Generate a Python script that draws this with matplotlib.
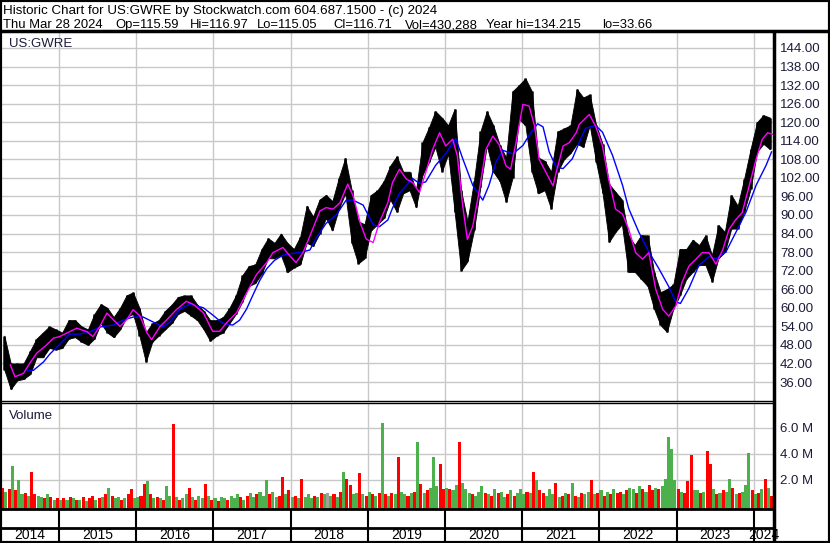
import matplotlib
matplotlib.use("Agg")
import matplotlib.pyplot as plt
from matplotlib.lines import Line2D
from matplotlib.patches import Rectangle
import numpy as np
import pandas as pd

# monthly high / low of the price bars, Apr 2014 .. Mar 2024
months = pd.period_range("2014-04", "2024-03", freq="M")
month_hi = [51, 42, 42, 42, 46, 50, 52, 54, 53, 52, 56, 56,
            54, 53, 58, 61.2, 60, 57, 60, 64, 65, 60, 52, 55,
            56, 59, 61, 63.5, 64, 64, 61, 59, 56, 56, 57, 60,
            64, 70.5, 73.5, 74, 79, 82.5, 81, 84, 81, 79, 83, 93,
            89.5, 95, 96.5, 94.5, 102, 108.5, 98, 88, 87, 96.5, 98, 101,
            106, 109, 104, 104, 98, 113.5, 118.3, 123.6, 121.5, 119, 124.3, 98,
            88, 101, 117, 123.6, 119, 112.7, 108.6, 130, 132, 134.2, 130, 108.6,
            107.5, 104, 117, 118, 119, 130.7, 128, 129, 119, 113, 100, 97.5,
            95, 83.5, 80.3, 83.5, 83.4, 71.6, 65.1, 66, 67.6, 79, 79, 82,
            80.3, 83.5, 77, 86.8, 84.5, 96.5, 93, 101.7, 111.3, 120, 122.3, 121.5]
month_lo = [40, 33.7, 36.5, 37, 38.5, 44, 44, 47, 46.5, 47, 50, 50.5,
            49, 48, 50, 55, 52, 50.5, 53, 57, 58, 51, 42.5, 49,
            51, 53, 55, 58, 59, 57.5, 56, 53, 49.3, 51, 52, 55,
            58, 62, 67, 68, 71, 76, 76, 77, 71.5, 73, 74, 81,
            80, 84, 89, 85, 92, 97, 81, 74.3, 76, 85, 87, 89,
            95, 91, 97, 98, 92.5, 103, 107, 112, 104, 109.7, 91, 72,
            75, 85, 99, 112.5, 104, 101, 94.2, 102, 121, 119, 104, 97,
            98, 92, 104, 108, 110, 113, 112, 119, 107, 97, 81.3, 84.5,
            87, 71.6, 71.6, 69.3, 67, 59.7, 54.4, 52.2, 59.7, 64, 69.3, 71.6,
            73.8, 73.8, 68.4, 76, 78, 85.6, 85.6, 91, 98.4, 110.4, 113, 111.3]

# short moving average (magenta)
fast_t = [2014.37, 2014.43, 2014.54, 2014.62, 2014.71, 2014.84, 2014.93,
          2015.01, 2015.14, 2015.23, 2015.36, 2015.44, 2015.53, 2015.62, 2015.70, 2015.79, 2015.88, 2015.96,
          2016.05, 2016.14, 2016.20, 2016.31, 2016.40, 2016.52, 2016.65, 2016.74, 2016.87, 2016.99,
          2017.08, 2017.17, 2017.30, 2017.43, 2017.56, 2017.69, 2017.77, 2017.90, 2017.99,
          2018.07, 2018.16, 2018.25, 2018.38, 2018.46, 2018.55, 2018.64, 2018.74, 2018.81, 2018.90, 2018.98,
          2019.07, 2019.15, 2019.26, 2019.32, 2019.41, 2019.50, 2019.58, 2019.67, 2019.75, 2019.84, 2019.93,
          2020.01, 2020.10, 2020.16, 2020.23, 2020.29, 2020.36, 2020.44, 2020.53, 2020.62, 2020.70, 2020.79,
          2020.85, 2020.92, 2021.01, 2021.09, 2021.16, 2021.22, 2021.31, 2021.40, 2021.44, 2021.53, 2021.61,
          2021.70, 2021.74, 2021.87, 2021.95, 2022.04, 2022.12, 2022.21, 2022.30, 2022.38, 2022.47, 2022.56,
          2022.64, 2022.73, 2022.82, 2022.90, 2022.99, 2023.07, 2023.16, 2023.25, 2023.33, 2023.42, 2023.51,
          2023.60, 2023.68, 2023.77, 2023.85, 2023.94, 2024.03, 2024.11, 2024.18, 2024.24]
fast_v = [41.5, 37.7, 38.8, 42.0, 45.3, 48.0, 50.2,
          50.7, 52.3, 53.4, 52.3, 50.7, 54.0, 58.3, 56.2, 54.0, 56.2, 59.4,
          57.3, 51.9, 49.7, 54.0, 56.2, 59.4, 62.1, 61.1, 58.4, 52.4,
          52.4, 55.1, 58.4, 64.8, 70.8, 74.6, 77.8, 79.5, 76.8,
          74.6, 77.8, 83.2, 91.3, 92.4, 91.9, 94.0, 100.0, 96.2, 87.6, 82.2,
          81.1, 87.6, 94.0, 100.5, 104.8, 101.6, 100.5, 97.3, 103.7, 111.2, 116.6,
          112.3, 114.5, 109.1, 92.9, 82.1, 86.4, 97.3, 111.2, 115.5, 112.8, 105.9,
          104.8, 113.4, 125.8, 125.2, 118.8, 108.0, 103.7, 99.4, 103.7, 112.3, 113.4,
          116.6, 119.3, 122.5, 118.8, 112.3, 101.6, 91.9, 90.3, 85.4, 77.8, 75.7,
          77.8, 66.0, 59.5, 57.3, 60.6, 68.2, 73.5, 75.7, 77.8, 77.8, 74.1,
          78.9, 85.4, 88.6, 90.8, 99.4, 108.0, 114.5, 116.6, 116.1]

# long moving average (blue)
slow_t = [2014.59, 2014.67, 2014.80, 2014.88,
          2015.01, 2015.14, 2015.27, 2015.40, 2015.53, 2015.70, 2015.83, 2015.96,
          2016.09, 2016.22, 2016.35, 2016.44, 2016.57, 2016.70, 2016.87, 2016.99,
          2017.12, 2017.25, 2017.34, 2017.43, 2017.51, 2017.60, 2017.69, 2017.79, 2017.90,
          2018.03, 2018.16, 2018.25, 2018.33, 2018.46, 2018.59, 2018.72, 2018.81, 2018.94,
          2019.07, 2019.15, 2019.26, 2019.32, 2019.41, 2019.58, 2019.67, 2019.75, 2019.88,
          2020.01, 2020.14, 2020.23, 2020.36, 2020.49, 2020.57, 2020.66, 2020.75, 2020.88,
          2021.01, 2021.09, 2021.20, 2021.27, 2021.35, 2021.44, 2021.53, 2021.65, 2021.76, 2021.82, 2021.95,
          2022.04, 2022.17, 2022.30, 2022.38, 2022.51, 2022.64, 2022.77, 2022.90, 2022.99,
          2023.05, 2023.16, 2023.29, 2023.42, 2023.51, 2023.64, 2023.77, 2023.90,
          2024.03, 2024.16, 2024.23]
slow_v = [39.6, 39.8, 42.5, 45.0,
          48.2, 51.5, 51.5, 52.2, 53.8, 54.4, 56.0, 57.0,
          57.0, 55.4, 53.8, 55.4, 59.6, 61.2, 60.0, 57.7,
          55.0, 54.4, 56.0, 59.6, 64.0, 68.8, 72.6, 75.3, 77.0,
          77.6, 78.1, 78.7, 82.5, 87.3, 90.0, 94.8, 94.8, 93.2,
          86.8, 86.2, 88.4, 92.2, 97.0, 101.8, 100.2, 100.7, 106.1,
          109.8, 114.7, 108.2, 99.6, 94.8, 99.6, 107.1, 110.9, 109.8,
          112.5, 115.8, 119.5, 118.5, 110.4, 105.5, 105.0, 108.2, 114.7, 118.0, 119.0,
          116.8, 109.3, 99.6, 92.1, 84.5, 78.1, 72.7, 66.8, 61.9,
          61.4, 66.3, 73.8, 76.5, 75.9, 78.1, 84.5, 91.0,
          99.6, 106.1, 110.4]

# volume in millions, two bars per month
volume = [1.4, 1.1, 1.3, 3.1, 1.2, 2.0, 0.9, 1.0, 0.8, 2.6, 0.9, 0.8, 0.7, 0.6, 0.9, 0.7, 0.5, 0.6, 0.5, 0.6, 0.5, 0.7, 0.6, 0.5,
          0.5, 0.7, 0.4, 0.6, 0.8, 0.5, 0.6, 0.7, 0.9, 1.4, 0.8, 0.6, 0.7, 0.5, 0.6, 0.9, 1.3, 0.6, 0.7, 0.8, 1.7, 1.9, 0.9, 0.6,
          0.7, 0.6, 0.5, 1.5, 0.8, 6.3, 0.7, 0.5, 0.6, 0.9, 1.4, 0.7, 0.5, 0.8, 0.6, 1.7, 0.8, 0.5, 0.6, 0.4, 0.7, 0.6, 0.5, 0.8,
          0.6, 0.9, 0.7, 0.5, 0.8, 1.0, 0.7, 0.9, 1.1, 0.8, 2.0, 0.9, 1.1, 0.7, 0.8, 2.2, 0.9, 1.2, 0.7, 0.8, 0.6, 2.1, 0.7, 0.9,
          0.6, 0.8, 0.7, 1.0, 0.9, 1.0, 0.8, 0.9, 0.7, 1.1, 2.6, 2.1, 1.6, 0.9, 1.0, 2.5, 0.9, 0.8, 1.1, 0.9, 0.8, 1.0, 6.4, 0.9,
          0.8, 1.0, 0.9, 3.8, 1.1, 0.9, 0.8, 1.0, 1.1, 4.9, 1.7, 1.0, 1.2, 1.4, 3.8, 1.5, 3.2, 1.3, 1.4, 1.3, 1.2, 1.6, 4.9, 1.8,
          1.3, 1.0, 0.9, 0.8, 1.1, 1.5, 1.0, 0.9, 0.8, 1.3, 1.0, 1.1, 0.7, 0.9, 1.2, 0.8, 1.0, 1.3, 0.9, 1.1, 1.0, 2.6, 2.0, 1.2,
          1.0, 0.8, 1.3, 0.9, 1.8, 0.7, 0.8, 1.0, 0.9, 1.8, 0.8, 0.7, 1.0, 0.9, 1.1, 2.0, 0.9, 1.0, 1.2, 0.8, 1.1, 0.9, 1.3, 1.0,
          1.1, 0.9, 1.2, 1.4, 1.3, 1.0, 1.5, 1.3, 1.1, 1.6, 1.2, 1.4, 1.3, 1.5, 2.1, 5.3, 4.4, 2.0, 1.3, 1.1, 1.0, 1.9, 3.9, 1.2,
          1.2, 1.0, 1.1, 4.2, 3.2, 1.3, 0.9, 1.0, 1.2, 1.1, 2.1, 1.4, 0.9, 1.0, 1.1, 1.6, 4.1, 1.2, 0.9, 1.0, 1.3, 2.1, 1.4, 0.8]
# bar colour per volume bar: g = up day, r = down day, k = unchanged
vol_dir = ("rgrgrggrgrrggrgrgrgrgrgr"
           "grgrrgrgrgrggrgrrggrrgrg"
           "rgrggrgrggrgrggrgrgrggrg"
           "ggrgrggrgggrggrrgrgrgrgg"
           "grgrgkgrgrgrrggrgrgrgrgr"
           "grgrggrgrgrgrgggrrgrggrg"
           "ggrgggrgrgrggrgrgggrgrgr"
           "rgggrgrgrgrgrggrgrgrgrgr"
           "rgrggrgrgrrgrgggggrgrrrg"
           "grgrrgrgrggrgrgggrgrgrgr")

price_ticks = list(range(36, 145, 6))
vol_ticks = [2, 4, 6]
years = list(range(2014, 2025))
header_1 = "Historic Chart for US:GWRE by Stockwatch.com 604.687.1500 - (c) 2024"
header_2 = ["Thu Mar 28 2024", "Op=115.59", "Hi=116.97", "Lo=115.05", "Cl=116.71",
            "Vol=430,288", "Year hi=134.215", "lo=33.66"]
header_2_x = [3, 115, 190, 257, 333, 405, 486, 602]

W, H = 830, 543
X0, X1 = 2014.236, 2024.249
GRID = "#c8c8c8"
TXT = "#1c1c3a"
plt.rcParams["font.family"] = ["Liberation Sans", "DejaVu Sans"]

fig = plt.figure(figsize=(W / 100, H / 100), dpi=100)


def px_axes(x0, y0, x1, y1):
    return fig.add_axes([x0 / W, 1 - y1 / H, (x1 - x0) / W, (y1 - y0) / H])


def fig_line(xs, ys, lw):
    fig.add_artist(Line2D([x / W for x in xs], [1 - y / H for y in ys], color="black",
                          lw=lw, transform=fig.transFigure, solid_capstyle="butt"))


# ---- price panel
ax = px_axes(0, 32, 773, 401)
t_month = months.year + (months.month - 0.5) / 12
ax.fill_between(t_month, month_lo, month_hi, color="black", lw=0.6, zorder=3)
ax.vlines(t_month, month_lo, month_hi, color="black", lw=1.8, zorder=3)
ax.plot(slow_t, slow_v, color="#0000ff", lw=1.0, zorder=4)
ax.plot(fast_t, fast_v, color="#ff00ff", lw=1.0, zorder=5)
ax.set_xlim(X0, X1)
ax.set_ylim(29.86, 149.17)
ax.set_yticks(price_ticks)
ax.set_yticklabels([f"{v:.2f}" for v in price_ticks], fontsize=9.5, color=TXT)
ax.yaxis.tick_right()
ax.tick_params(axis="y", length=0, pad=5)
ax.set_xticks(years[1:])
ax.tick_params(axis="x", length=0, labelbottom=False)
ax.grid(True, color=GRID, lw=1.0)
ax.set_axisbelow(True)
for s in ["top", "left", "right"]:
    ax.spines[s].set_visible(False)
ax.spines["bottom"].set_linewidth(1.0)
ax.text(0.012, 0.985, "US:GWRE", transform=ax.transAxes, ha="left", va="top",
        fontsize=9.5, color=TXT)

# ---- volume panel
av = px_axes(0, 403, 773, 509)
t_vol = np.repeat(t_month - 0.5 / 12, 2) + np.tile([0.25, 0.75], len(t_month)) / 12
colors = {"g": "#4cb04c", "r": "#ff0000", "k": "#a0a0a0"}
vb = -0.23
av.bar(t_vol, np.array(volume) - vb, bottom=vb, width=0.95 / 24,
       color=[colors[c] for c in vol_dir], lw=0, zorder=3)
av.set_xlim(X0, X1)
av.set_ylim(vb, 7.92)
av.set_yticks(vol_ticks)
av.set_yticklabels([f"{v:.1f} M" for v in vol_ticks], fontsize=9.5, color=TXT)
av.yaxis.tick_right()
av.tick_params(axis="y", length=0, pad=5)
av.set_xticks(years[1:])
av.tick_params(axis="x", length=0, labelbottom=False)
av.grid(True, color=GRID, lw=1.0)
av.set_axisbelow(True)
for s in ["bottom", "left", "right"]:
    av.spines[s].set_visible(False)
av.spines["top"].set_linewidth(1.0)
av.text(0.012, 0.93, "Volume", transform=av.transAxes, ha="left", va="top",
        fontsize=9.5, color=TXT)

# ---- empty band and year labels
for (y0, y1) in [(509, 527), (527, 542)]:
    ab = px_axes(0, y0, 773, y1)
    ab.set_xlim(X0, X1)
    ab.set_ylim(0, 1)
    ab.vlines(years[1:], 0, 1, color="black", lw=1.5)
    ab.set_xticks([])
    ab.set_yticks([])
    for s in ab.spines.values():
        s.set_visible(False)
    if y0 == 527:
        for yr in years:
            a, b = max(yr, X0), min(yr + 1, X1)
            ab.text((a + b) / 2, 0.45, str(yr), ha="center", va="center",
                    fontsize=10, color="black")

fig_line([0, 773], [509, 509], 2.0)
fig_line([0, 773], [527.5, 527.5], 2.0)
fig_line([0, W], [31, 31], 2.5)
fig_line([773.5, 773.5], [31, H], 2.5)
fig.add_artist(Rectangle((0, 0), 1, 1, transform=fig.transFigure, fill=False,
                         ec="black", lw=3))

# ---- header
fig.text(3 / W, 1 - 11 / H, header_1, ha="left", va="center", fontsize=9.6, color="black")
for x, s in zip(header_2_x, header_2):
    fig.text(x / W, 1 - 25 / H, s, ha="left", va="center", fontsize=9.4, color="black")

fig.savefig("out.png", dpi=100)
